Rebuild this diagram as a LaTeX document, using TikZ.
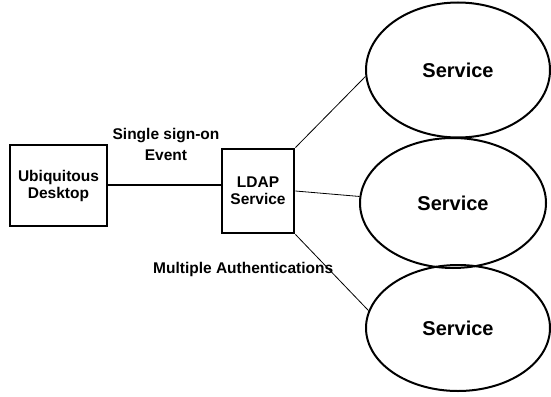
\documentclass[tikz,border=0pt]{standalone}
\usepackage{fontspec}
\setmainfont{Liberation Sans}
\usetikzlibrary{shapes.geometric}
\begin{document}
\begin{tikzpicture}[x=1pt,y=-1pt,
  box/.style={draw,line width=2.8pt,align=center,font=\fontsize{15.5}{18}\selectfont\bfseries,inner sep=0pt},
  svc/.style={draw,ellipse,line width=2pt,inner sep=0pt,font=\fontsize{20}{24}\selectfont\bfseries},
  lbl/.style={align=center,font=\fontsize{15.5}{21}\selectfont\bfseries,inner sep=0pt},
  thin/.style={line width=0.8pt}]
\useasboundingbox (0,0) rectangle (551,396);
% left box and LDAP box
\node[box,minimum width=97pt,minimum height=81pt] (desk) at (58.5,185.5) {Ubiquitous\\[-1pt]Desktop};
\node[box,minimum width=72pt,minimum height=84pt] (ldap) at (258,191) {LDAP\\[-1pt]Service};
% services
\node[svc,minimum width=184pt,minimum height=135pt] (s1) at (458,70) {Service};
\node[svc,minimum width=186pt,minimum height=130pt] (s2) at (453,203) {Service};
\node[svc,minimum width=184pt,minimum height=126pt] (s3) at (458,328) {Service};
% connectors
\draw[line width=2pt] (desk.east |- 0,185) -- (ldap.west |- 0,185);
\draw[thin] (ldap.north east) -- (s1.184);
\draw[thin] (ldap.east) -- (s2.176);
\draw[thin] (ldap.south east) -- (s3.169);
% labels
\node[lbl] (sso) at (166,144) {Single sign-on\\Event};
\node[lbl,anchor=west] (multi) at (153,269) {Multiple Authentications};
\end{tikzpicture}
\end{document}
